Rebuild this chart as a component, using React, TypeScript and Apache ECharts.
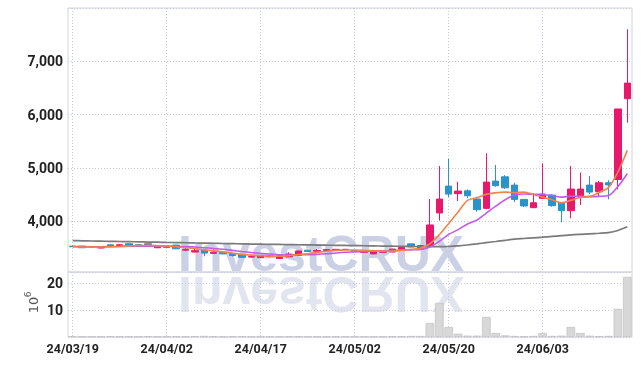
import React, { useEffect, useRef } from 'react';
import * as echarts from 'echarts';

const dates = [
  '24/03/19', '24/03/20', '24/03/21', '24/03/22', '24/03/25', '24/03/26', '24/03/27', '24/03/28', '24/03/29', '24/04/01',
  '24/04/02', '24/04/03', '24/04/04', '24/04/05', '24/04/08', '24/04/09', '24/04/11', '24/04/12', '24/04/15', '24/04/16',
  '24/04/17', '24/04/18', '24/04/19', '24/04/22', '24/04/23', '24/04/24', '24/04/25', '24/04/26', '24/04/29', '24/04/30',
  '24/05/02', '24/05/03', '24/05/07', '24/05/08', '24/05/09', '24/05/10', '24/05/13', '24/05/14', '24/05/16', '24/05/17',
  '24/05/20', '24/05/21', '24/05/22', '24/05/23', '24/05/24', '24/05/27', '24/05/28', '24/05/29', '24/05/30', '24/05/31',
  '24/06/03', '24/06/04', '24/06/05', '24/06/07', '24/06/10', '24/06/11', '24/06/12', '24/06/13', '24/06/14', '24/06/17',
];

const opens = [
  3530, 3530, 3520, 3495, 3555, 3540, 3575, 3555, 3575, 3500,
  3535, 3550, 3455, 3420, 3460, 3395, 3415, 3390, 3370, 3325,
  3315, 3335, 3300, 3330, 3355, 3455, 3435, 3450, 3460, 3465,
  3445, 3415, 3385, 3415, 3420, 3475, 3573, 3475, 3535, 4153,
  4657, 4515, 4569, 4414, 4240, 4751, 4831, 4676, 4408, 4252,
  4427, 4489, 4345, 4196, 4476, 4676, 4551, 4720, 4782, 6297,
];
const closes = [
  3520, 3500, 3515, 3520, 3535, 3555, 3550, 3550, 3530, 3530,
  3505, 3480, 3465, 3445, 3400, 3415, 3385, 3355, 3320, 3335,
  3350, 3345, 3350, 3380, 3440, 3430, 3450, 3465, 3470, 3470,
  3430, 3425, 3430, 3425, 3475, 3505, 3515, 3540, 3928, 4414,
  4508, 4564, 4476, 4215, 4732, 4665, 4625, 4408, 4285, 4345,
  4508, 4290, 4196, 4602, 4602, 4545, 4720, 4680, 6105, 6590,
];
const lows = [
  3515, 3495, 3500, 3490, 3530, 3535, 3545, 3525, 3525, 3495,
  3500, 3475, 3450, 3415, 3340, 3390, 3380, 3335, 3315, 3315,
  3305, 3320, 3295, 3325, 3350, 3425, 3430, 3445, 3455, 3460,
  3425, 3410, 3380, 3405, 3415, 3470, 3510, 3470, 3530, 4009,
  4452, 4377, 4433, 4177, 4222, 4645, 4605, 4358, 4265, 4245,
  4415, 4270, 3979, 4053, 4302, 4508, 4457, 4408, 4595, 5849,
];
const highs = [
  3545, 3535, 3525, 3525, 3560, 3565, 3580, 3560, 3580, 3535,
  3540, 3555, 3505, 3495, 3465, 3465, 3420, 3395, 3375, 3350,
  3360, 3360, 3360, 3415, 3445, 3460, 3475, 3475, 3475, 3480,
  3450, 3435, 3435, 3430, 3480, 3520, 3575, 3555, 4415, 5035,
  5166, 4738, 4595, 4457, 5272, 5054, 4863, 4720, 4415, 4521,
  5085, 4505, 4355, 5035, 4913, 4844, 4756, 4769, 6105, 7600,
];

const ma5 = [
  3520, 3515, 3515, 3515, 3518, 3525, 3535, 3542, 3544, 3543,
  3533, 3519, 3502, 3485, 3459, 3441, 3422, 3400, 3375, 3362,
  3349, 3341, 3340, 3352, 3373, 3389, 3410, 3433, 3451, 3457,
  3457, 3452, 3445, 3436, 3437, 3452, 3470, 3492, 3575, 3745,
  3955, 4170, 4390, 4440, 4505, 4532, 4545, 4535, 4545, 4500,
  4450, 4400, 4345, 4390, 4445, 4460, 4538, 4633, 4920, 5328,
];
const ma10 = [
  3525, 3522, 3520, 3520, 3522, 3525, 3528, 3530, 3531, 3531,
  3529, 3527, 3522, 3515, 3501, 3487, 3471, 3451, 3430, 3411,
  3395, 3382, 3370, 3364, 3368, 3369, 3376, 3387, 3402, 3415,
  3423, 3431, 3439, 3444, 3447, 3455, 3461, 3469, 3514, 3620,
  3750, 3840, 3945, 4020, 4150, 4280, 4400, 4490, 4510, 4505,
  4500, 4480, 4450, 4470, 4465, 4460, 4465, 4480, 4650, 4890,
];
const ma60 = [
  3634, 3631, 3627, 3624, 3621, 3617, 3614, 3611, 3607, 3604,
  3600, 3597, 3594, 3590, 3587, 3584, 3580, 3577, 3574, 3570,
  3567, 3564, 3562, 3559, 3556, 3554, 3551, 3548, 3546, 3543,
  3540, 3538, 3535, 3532, 3530, 3527, 3525, 3522, 3520, 3520,
  3524, 3535, 3552, 3573, 3597, 3618, 3640, 3661, 3674, 3686,
  3698, 3712, 3726, 3741, 3752, 3762, 3772, 3785, 3825, 3893,
];

// volume in millions
const volumes = [
  0.3, 0.2, 0.2, 0.2, 0.3, 0.2, 0.3, 0.2, 0.3, 0.2,
  0.2, 0.3, 0.2, 0.3, 0.4, 0.3, 0.2, 0.3, 0.3, 0.2,
  0.2, 0.2, 0.2, 0.3, 0.3, 0.2, 0.2, 0.2, 0.2, 0.2,
  0.2, 0.2, 0.2, 0.2, 0.3, 0.3, 0.4, 0.4, 5.2, 12.6,
  3.7, 1.2, 0.5, 0.5, 7.4, 1.5, 0.6, 0.4, 0.3, 0.4,
  1.5, 0.4, 0.5, 3.7, 1.5, 0.5, 0.3, 0.4, 10.4, 22.2,
];

const priceTicks = [4000, 5000, 6000, 7000];
const volumeTicks = [10, 20];

const UP = '#e8196d';
const DOWN = '#2b93c8';
const FONT = "Roboto, 'Noto Sans', sans-serif";
const GRIDC = '#c6cbe0';

export default function App() {
  const ref = useRef<HTMLDivElement>(null);
  useEffect(() => {
    document.body.style.margin = '0';
    if (!ref.current) return;
    const chart = echarts.init(ref.current, undefined, { renderer: 'svg' });
    const candles = dates.map((_, i) => [opens[i], closes[i], lows[i], highs[i]]);
    const splitX = {
      show: true,
      interval: 9,
      alignWithLabel: true,
      lineStyle: { type: [1, 2], color: GRIDC, width: 1 },
    };
    chart.setOption({
      animation: false,
      graphic: [
        {
          type: 'text', x: 178, y: 253.5, z: -1, silent: true,
          style: {
            text: 'InvestCRUX', font: "bold 50px 'Liberation Sans', Arial, sans-serif",
            fill: '#cbd0e5', verticalAlign: 'middle', textVerticalAlign: 'middle',
          },
        },
        {
          type: 'text', x: 178, y: 294, scaleY: -1, z: -1, silent: true,
          style: {
            text: 'InvestCRUX', font: "bold 50px 'Liberation Sans', Arial, sans-serif",
            fill: '#e2e5f0', verticalAlign: 'middle', textVerticalAlign: 'middle',
          },
        },
        {
          type: 'group', x: 33, y: 305, rotation: Math.PI / 2, silent: true,
          children: [
            {
              type: 'text', x: 0, y: 0,
              style: {
                text: '10', font: "13px 'DejaVu Sans', sans-serif", fill: '#555',
                align: 'center', verticalAlign: 'middle', textAlign: 'center', textVerticalAlign: 'middle',
              },
            },
            {
              type: 'text', x: 10.5, y: -5,
              style: {
                text: '6', font: "9px 'DejaVu Sans', sans-serif", fill: '#555',
                align: 'center', verticalAlign: 'middle', textAlign: 'center', textVerticalAlign: 'middle',
              },
            },
          ],
        },
      ],
      grid: [
        { left: 68, right: 10, top: 8, height: 264, show: true, borderColor: '#d2d3dc', borderWidth: 1 },
        { left: 68, right: 10, top: 272, height: 65, show: true, borderColor: '#d2d3dc', borderWidth: 1 },
      ],
      xAxis: [
        {
          type: 'category', gridIndex: 0, data: dates, boundaryGap: true,
          axisLine: { show: false }, axisTick: { show: false }, axisLabel: { show: false },
          splitLine: splitX,
        },
        {
          type: 'category', gridIndex: 1, data: dates, boundaryGap: true,
          axisLine: { show: false }, axisTick: { show: false },
          axisLabel: { interval: 9, margin: 5, fontSize: 12.5, fontWeight: 'bold', color: '#222', fontFamily: FONT },
          splitLine: splitX,
        },
      ],
      yAxis: [
        {
          type: 'value', gridIndex: 0, min: 3045, max: 8000, splitNumber: 5,
          axisLine: { show: false }, axisTick: { show: false },
          axisLabel: {
            margin: 5, fontSize: 14, fontWeight: 'bold', color: '#222', fontFamily: FONT, padding: [3, 0, 0, 0],
            formatter: (v: number) => (priceTicks.includes(v) ? v.toLocaleString('en-US') : ''),
          },
          splitLine: { lineStyle: { type: [1, 2], color: GRIDC, width: 1 } },
        },
        {
          type: 'value', gridIndex: 1, min: 0, max: 24, interval: 10,
          axisLine: { show: false }, axisTick: { show: false },
          axisLabel: {
            margin: 5, fontSize: 14, fontWeight: 'bold', color: '#222', fontFamily: FONT, padding: [3, 0, 0, 0],
            formatter: (v: number) => (volumeTicks.includes(v) ? String(v) : ''),
          },
          splitLine: { lineStyle: { type: [1, 2], color: GRIDC, width: 1 } },
        },
      ],
      series: [
        {
          type: 'candlestick', xAxisIndex: 0, yAxisIndex: 0, data: candles, barWidth: 7, z: 2,
          itemStyle: { color: UP, color0: DOWN, borderColor: UP, borderColor0: DOWN, borderWidth: 1 },
        },
        {
          type: 'line', xAxisIndex: 0, yAxisIndex: 0, data: ma60, symbol: 'none', smooth: 0.3, z: 3,
          lineStyle: { color: '#7a7a7a', width: 1.7 },
        },
        {
          type: 'line', xAxisIndex: 0, yAxisIndex: 0, data: ma10, symbol: 'none', smooth: 0.3, z: 3,
          lineStyle: { color: '#c559e8', width: 1.6 },
        },
        {
          type: 'line', xAxisIndex: 0, yAxisIndex: 0, data: ma5, symbol: 'none', smooth: 0.3, z: 4,
          lineStyle: { color: '#f0844c', width: 1.6 },
        },
        {
          type: 'bar', xAxisIndex: 1, yAxisIndex: 1, data: volumes, barCategoryGap: '8%',
          itemStyle: { color: '#d8d8d8', borderColor: '#c4c4c4', borderWidth: 0.8 },
        },
      ],
    });
    return () => chart.dispose();
  }, []);
  return <div ref={ref} style={{ position: 'fixed', left: 0, top: 0, width: 642, height: 366 }} />;
}
